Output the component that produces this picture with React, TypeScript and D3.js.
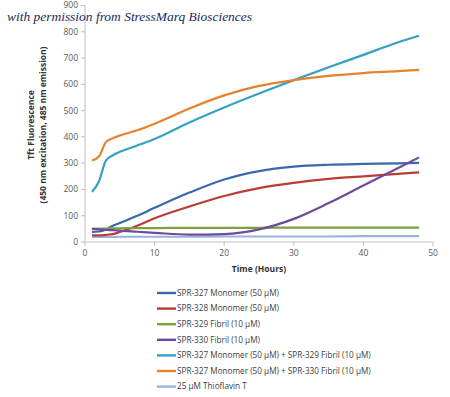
import React from "react";
import * as d3 from "d3";

// hours sampled along every curve
const hours = [1, 2, 3, 4, 5, 7.5, 10, 15, 20, 25, 30, 35, 40, 45, 48];

const seriesNames = [
  "SPR-327 Monomer (50 µM)",
  "SPR-328 Monomer (50 µM)",
  "SPR-329 Fibril (10 µM)",
  "SPR-330 Fibril (10 µM)",
  "SPR-327 Monomer (50 µM) + SPR-329 Fibril (10 µM)",
  "SPR-327 Monomer (50 µM) + SPR-330 Fibril (10 µM)",
  "25 µM Thioflavin T",
];
const seriesColors = ["#3b68ad", "#bd3b37", "#7aa33b", "#6b4c9c", "#36a1c2", "#e8812c", "#98b2de"];

const spr327 = [38, 40, 48, 62, 72, 100, 130, 188, 238, 270, 287, 294, 297, 299, 301];
const spr328 = [25, 25, 27, 30, 38, 62, 90, 135, 175, 205, 225, 240, 250, 259, 265];
const spr329 = [50, 51, 51, 52, 52, 53, 53, 54, 54, 54, 55, 55, 55, 55, 55];
const spr330 = [50, 48, 46, 45, 43, 39, 35, 28, 30, 48, 88, 148, 215, 282, 322];
const mix329 = [190, 230, 310, 330, 343, 367, 392, 455, 512, 565, 616, 665, 712, 760, 785];
const mix330 = [310, 325, 380, 395, 405, 425, 450, 508, 558, 594, 616, 632, 643, 650, 655];
const thioT = [19, 19, 19, 19, 20, 20, 20, 20, 21, 21, 21, 21, 22, 22, 22];
const allSeries = [spr327, spr328, spr329, spr330, mix329, mix330, thioT];

const yTicks = [0, 100, 200, 300, 400, 500, 600, 700, 800, 900];
const xTicks = [0, 10, 20, 30, 40, 50];

const W = 450;
const H = 397;
const left = 85;
const right = 433;
const top = 5.5;
const bottom = 242;

const App = () => {
  const x = d3.scaleLinear().domain([0, 50]).range([left, right]);
  const y = d3.scaleLinear().domain([0, 900]).range([bottom, top]);
  const line = d3
    .line<number>()
    .x((d, i) => x(hours[i]))
    .y((d) => y(d))
    .curve(d3.curveMonotoneX);

  const axisColor = "#bfbfbf";
  const font = "'Open Sans', 'Liberation Sans', sans-serif";

  // draw order: thioflavin underneath, then the rest
  const order = [6, 0, 1, 2, 3, 4, 5];

  return (
    <svg width={W} height={H} style={{ position: "absolute", left: 0, top: 0, background: "#fff" }}>
      {/* y axis */}
      <line x1={left} x2={left} y1={top} y2={bottom} stroke={axisColor} strokeWidth={1} />
      {yTicks.map((t) => (
        <g key={t}>
          <line x1={left - 4} x2={left} y1={y(t)} y2={y(t)} stroke={axisColor} />
          <text x={left - 7} y={y(t)} dy="0.35em" textAnchor="end" fontSize={8.5} fill="#595959" fontFamily={font}>
            {t}
          </text>
        </g>
      ))}
      {/* x axis */}
      <line x1={left} x2={right} y1={bottom} y2={bottom} stroke={axisColor} strokeWidth={1} />
      {xTicks.map((t) => (
        <g key={t}>
          <line x1={x(t)} x2={x(t)} y1={bottom} y2={bottom + 4} stroke={axisColor} />
          <text x={x(t)} y={bottom + 14} textAnchor="middle" fontSize={8.5} fill="#595959" fontFamily={font}>
            {t}
          </text>
        </g>
      ))}
      <text x={(left + right) / 2} y={272} textAnchor="middle" fontSize={8.5} fontWeight="bold" fill="#333" fontFamily={font}>
        Time (Hours)
      </text>
      <g transform={`translate(38,125) rotate(-90)`}>
        <text x={0} y={-4} textAnchor="middle" fontSize={8.5} fontWeight="bold" fill="#333" fontFamily={font}>
          Tft Fluorescence
        </text>
        <text x={0} y={7.5} textAnchor="middle" fontSize={8.5} fontWeight="bold" fill="#333" fontFamily={font}>
          (450 nm excitation, 485 nm emission)
        </text>
      </g>

      {/* series */}
      {order.map((k) => (
        <path key={k} d={line(allSeries[k]) || ""} fill="none" stroke={seriesColors[k]} strokeWidth={2.2} />
      ))}

      {/* legend */}
      {seriesNames.map((name, i) => {
        const ly = 293 + i * 15.6;
        return (
          <g key={name}>
            <line x1={157} x2={176} y1={ly} y2={ly} stroke={seriesColors[i]} strokeWidth={2.4} />
            <text x={177} y={ly} dy="0.35em" fontSize={8.2} fill="#404040" fontFamily={font}>
              {name}
            </text>
          </g>
        );
      })}

      {/* watermark */}
      <text
        x={7}
        y={21}
        fontSize={13}
        fontStyle="italic"
        fill="#1a2a5e"
        fontFamily="'Liberation Serif', 'DejaVu Serif', serif"
        textLength={245}
        lengthAdjust="spacingAndGlyphs"
      >
        with permission from StressMarq Biosciences
      </text>
    </svg>
  );
};

export default App;
